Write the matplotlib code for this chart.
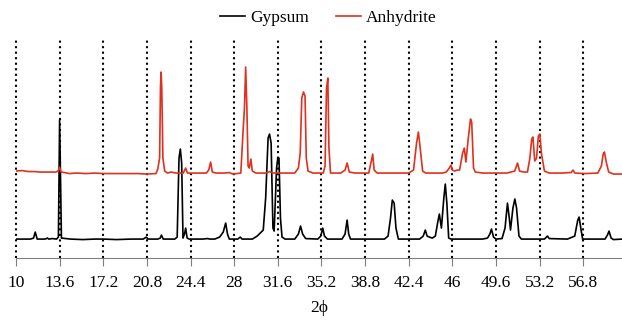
import matplotlib
matplotlib.use("Agg")
import matplotlib.pyplot as plt

plt.rcParams['font.family'] = ['Liberation Serif', 'DejaVu Serif']
plt.rcParams['font.size'] = 12.5

# gypsum pattern (2phi, intensity in arbitrary units)
gyp_x = [10.0, 11.2, 11.45, 11.59, 11.75, 12.4, 12.6, 12.7, 13.0, 13.35, 13.5, 13.6, 13.75,
         14.5, 15.5, 16.5, 17.2, 18.3, 19.5, 20.5, 20.75, 20.9, 21.7, 21.9, 22.0, 22.15,
         23.1, 23.3, 23.45, 23.56, 23.67, 23.78, 23.9, 24.0, 24.12, 24.3, 25.4, 25.8, 26.0,
         26.4, 26.8, 27.1, 27.3, 27.45, 27.6, 28.3, 28.5, 28.65, 29.2, 29.5, 29.9, 30.4,
         30.6, 30.8, 30.92, 31.05, 31.2, 31.3, 31.5, 31.6, 31.7, 31.82, 31.95, 32.2, 33.0,
         33.3, 33.48, 33.65, 33.9, 34.9, 35.15, 35.31, 35.45, 35.7, 36.9, 37.15, 37.32,
         37.45, 37.6, 40.4, 40.7, 40.9, 41.05, 41.2, 41.35, 41.55, 43.3, 43.6, 43.77, 43.92,
         44.1, 44.35, 44.6, 44.8, 44.93, 45.1, 45.3, 45.42, 45.55, 45.7, 45.9, 47.0, 48.5,
         48.9, 49.1, 49.23, 49.4, 49.6, 50.1, 50.35, 50.55, 50.7, 50.8, 51.0, 51.16, 51.3,
         51.5, 51.7, 53.6, 53.85, 54.0, 55.5, 56.1, 56.35, 56.46, 56.6, 56.75, 58.6, 58.8,
         58.93, 59.1, 59.3, 60.0]
gyp_y = [19, 19, 20, 26, 19, 19, 20, 19, 19.5, 19, 21, 138, 20,
         19, 18.5, 19, 19, 18.5, 19, 19, 21, 19, 19, 20, 23, 19,
         19, 21, 100, 109, 95, 20, 24, 30, 20, 19, 19, 19.5, 19,
         19, 21, 26, 35, 24, 19, 19, 21, 19, 19, 19, 22, 28,
         60, 120, 124, 115, 30, 27, 90, 100, 100, 40, 21, 19, 19,
         24, 32, 24, 19.5, 19, 22, 30, 22, 19, 19, 24, 38,
         24, 19, 19, 22, 40, 58, 55, 30, 19, 19, 22, 28, 22,
         21, 20, 22, 36, 44, 30, 60, 74, 55, 20, 19, 19, 19,
         20, 24, 29, 21, 19, 19.5, 30, 55, 40, 28, 50, 59, 50,
         22, 19, 19, 22, 19.5, 19, 22, 38, 41, 30, 19, 19, 23,
         27, 20, 18.5, 19]

# anhydrite pattern, offset above gypsum
anh_x = [10.0, 10.5, 11.0, 11.5, 12.0, 12.7, 13.3, 13.5, 13.6, 13.72, 14.0, 14.4, 15.0,
         15.8, 16.5, 17.2, 18.2, 19.0, 20.0, 20.8, 21.55, 21.7, 21.85, 21.92, 21.97, 22.03,
         22.12, 22.27, 22.5, 22.8, 23.2, 23.8, 24.0, 24.15, 24.8, 25.7, 25.9, 26.06, 26.2,
         26.5, 27.2, 27.6, 27.9, 28.2, 28.55, 28.75, 28.85, 28.95, 29.05, 29.15, 29.25,
         29.38, 29.5, 29.8, 30.6, 30.95, 31.2, 31.6, 32.2, 33.0, 33.3, 33.45, 33.58, 33.72,
         33.85, 33.95, 34.1, 34.5, 35.35, 35.5, 35.62, 35.73, 35.82, 35.95, 36.8, 37.15,
         37.32, 37.5, 38.0, 39.1, 39.3, 39.43, 39.55, 39.8, 42.4, 42.8, 43.05, 43.2, 43.35,
         43.55, 43.8, 45.2, 45.5, 45.75, 45.89, 46.0, 46.2, 46.4, 46.6, 46.85, 46.99, 47.12,
         47.3, 47.5, 47.6, 47.75, 47.9, 48.5, 50.5, 51.15, 51.38, 51.55, 51.9, 52.2, 52.4,
         52.55, 52.65, 52.8, 52.95, 53.1, 53.22, 53.35, 53.6, 54.0, 55.0, 55.8, 55.96, 56.1,
         57.0, 58.0, 58.3, 58.45, 58.55, 58.7, 58.9, 59.3, 60.0]
anh_y = [87, 87.5, 86.5, 86.5, 86, 86, 86, 87.5, 91, 86, 85.5, 84.5, 85,
         84.5, 85, 84.5, 84.5, 84.5, 84.5, 84, 84.5, 89, 100, 170, 186, 170,
         100, 87, 85, 86, 85, 85, 90, 85, 85, 85, 88, 96, 86,
         85, 85, 85.5, 84, 84.5, 85, 130, 150, 191, 150, 92, 90,
         99, 87, 85, 85, 86.5, 85, 85, 85, 85, 90, 105, 160, 166,
         162, 100, 87, 85, 85, 92, 170, 180, 110, 85, 85, 88,
         95, 86, 85, 85, 96, 104, 88, 85, 85, 88, 115, 126, 110,
         87, 85, 85, 86, 90, 93, 88, 87, 88, 88, 105, 110, 96,
         118, 139, 136, 90, 86, 85, 85, 87, 95, 87, 86, 86, 100,
         119, 121, 97, 100, 122, 124, 105, 87, 85, 85, 85.5, 88, 85,
         84.5, 85, 92, 104, 106, 96, 86, 84, 84]

tick_pos = [10, 13.6, 17.2, 20.8, 24.4, 28, 31.6, 35.2, 38.8, 42.4, 46, 49.6, 53.2, 56.8]
tick_lab = ['10', '13.6', '17.2', '20.8', '24.4', '28', '31.6', '35.2', '38.8', '42.4',
            '46', '49.6', '53.2', '56.8']

fig = plt.figure(figsize=(6.22, 3.21), dpi=100)
ax = fig.add_axes([0.0257, 0.196, 0.9743, 0.6825])

ax.plot(gyp_x, gyp_y, color='black', lw=1.2, label='Gypsum')
ax.plot(anh_x, anh_y, color='#e0301e', lw=1.2, label='Anhydrite')

ax.set_xlim(10, 60)
ax.set_ylim(0, 219)
ax.set_xticks(tick_pos)
ax.set_xticklabels(tick_lab)
ax.set_yticks([])
ax.grid(axis='x', color='black', linestyle=':', linewidth=1.5)
for gl in ax.get_xgridlines():
    gl.set_clip_on(False)
ax.set_axisbelow(True)
for s in ['left', 'right', 'top']:
    ax.spines[s].set_visible(False)
ax.spines['bottom'].set_color('#808080')
ax.tick_params(axis='x', direction='out', length=6, color='#808080', pad=6)
ax.set_xlabel('2ϕ', labelpad=7)

fig.legend(loc='center', bbox_to_anchor=(0.528, 1 - 18 / 321), ncol=2, frameon=False,
           handlelength=1.4, handletextpad=0.3, columnspacing=1.6)

fig.savefig('out.png', dpi=100)
